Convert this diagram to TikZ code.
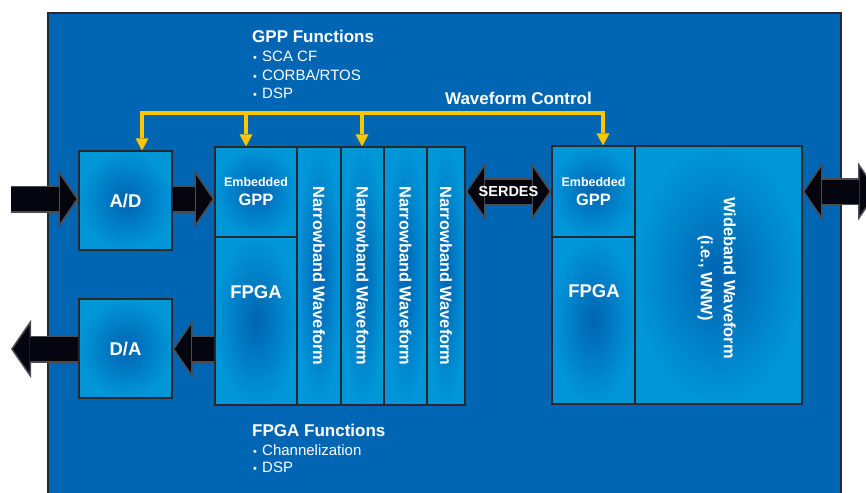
\documentclass[tikz,border=0pt]{standalone}
\usepackage{fontspec}
\setmainfont{Liberation Sans}
\usetikzlibrary{arrows.meta}

\definecolor{bgblue}{RGB}{0,102,179}
\definecolor{boxlight}{RGB}{0,150,216}
\definecolor{boxmid}{RGB}{0,100,178}
\definecolor{boxline}{RGB}{40,40,45}
\definecolor{ctrlyellow}{RGB}{255,198,0}
\definecolor{arrblack}{RGB}{5,5,15}
\definecolor{arrgray}{RGB}{75,75,80}

\begin{document}
\begin{tikzpicture}[x=1pt, y=-1pt,
	blk/.style={ draw=boxline, line width=1.3pt, inner color=boxmid, outer color=boxlight, inner sep=0pt, text=white, align=center },
	lbl/.style={ text=white, inner sep=0pt, align=center },
	big/.style={ font=\fontsize{18.5}{22}\selectfont\bfseries },
	mid/.style={ font=\fontsize{16.4}{23}\selectfont\bfseries },
	fnhead/.style={ text=white, anchor=base west, inner sep=0pt, font=\fontsize{17}{20}\selectfont\bfseries },
	fnitem/.style={ text=white, anchor=base west, inner sep=0pt, font=\fontsize{15}{18}\selectfont },
	ctrl/.style={ draw=ctrlyellow, line width=3.5pt, >={Triangle[length=12pt, width=13pt, line width=0pt]}, -> },
	fatarr/.style={ draw=arrgray, line width=27pt, >={Triangle[length=20pt, width=58pt, line width=1.5pt, fill=arrblack]}, ->,
		postaction={ draw=arrblack, line width=24pt, arrows=-, shorten >=19pt } },
	fatdbl/.style={ draw=arrgray, line width=27pt, >={Triangle[length=20pt, width=58pt, line width=1.5pt, fill=arrblack]}, <->,
		postaction={ draw=arrblack, line width=24pt, arrows=-, shorten >=19pt, shorten <=19pt } }
]
\newcommand{\bul}{\makebox[9pt][l]{\fontsize{11}{11}\selectfont •}}

\useasboundingbox (0,0) rectangle (866,492);
\draw[fill=bgblue, draw=boxline, line width=1.5pt] (48,13) rectangle (841,500);

% converters
\node[blk, big, minimum width=93, minimum height=99] (ad) at (125.5,200.5) {A/D};
\node[blk, big, minimum width=93, minimum height=99] (da) at (125.5,348.5) {D/A};

% left processing board
\node[blk, font=\fontsize{16.5}{19}\selectfont\bfseries, minimum width=82, minimum height=90] (gppL) at (256,192) {{\fontsize{12.5}{15}\selectfont Embedded}\\GPP};
\node[blk, minimum width=82, minimum height=168] (fpgaL) at (256,321) {};
\node[lbl, big] (fpgaLt) at (256,292) {FPGA};
\foreach \i/\x/\w in {1/319/44, 2/362.5/43, 3/405.5/43, 4/446/38} {
	\node[blk, minimum width=\w, minimum height=258] (nb\i) at (\x,276) {};
	\node[lbl, mid, rotate=-90] (nbt\i) at (nb\i) {Narrowband Waveform};
}

% right processing board
\node[blk, font=\fontsize{16.5}{19}\selectfont\bfseries, minimum width=83, minimum height=91] (gppR) at (593.5,191.5) {{\fontsize{12.5}{15}\selectfont Embedded}\\GPP};
\node[blk, minimum width=83, minimum height=167] (fpgaR) at (593.5,320.5) {};
\node[lbl, big] (fpgaRt) at (594,291) {FPGA};
\node[blk, minimum width=167, minimum height=258] (wnw) at (718.5,275) {};
\node[lbl, mid, rotate=-90] (wnwt) at (716.5,278) {Wideband Waveform\\(i.e., WNW)};

% waveform control bus
\coordinate (b1) at (142,113);
\coordinate (b2) at (246,113);
\coordinate (b3) at (362,113);
\coordinate (b4) at (603,113);
\draw[ctrl, <->] (b1 |- ad.north) -- (b1) -- (b4) -- (b4 |- gppR.north);
\draw[ctrl] (b2) -- (b2 |- gppL.north);
\draw[ctrl] (b3) -- (b3 |- nb2.north);
\node[fnhead, anchor=base east] (wfc) at (592,105) {Waveform Control};

% data paths
\coordinate (in) at (11,199);
\coordinate (out) at (11,349);
\coordinate (ext) at (878,191.5);
\draw[fatarr] (in) -- (in -| ad.west);
\draw[fatarr] (in -| ad.east) -- (in -| gppL.west);
\draw[fatarr] (out -| fpgaL.west) -- (out -| da.east);
\draw[fatarr] (out -| da.west) -- (out);
\draw[fatdbl] (gppR.west -| nb4.east) -- node[lbl, font=\fontsize{14.5}{16}\selectfont\bfseries] (serdes) {SERDES} (gppR.west);
\draw[fatdbl] (wnw.east |- gppR.west) -- (ext);

% function lists
\node[fnhead] (gppfn) at (252,43) {GPP Functions};
\foreach \t/\y [count=\i] in {SCA CF/62, {CORBA/RTOS}/80.5, DSP/98.5}
	\node[fnitem] (gppi\i) at (253,\y) {\bul\t};
\node[fnhead] (fpgafn) at (252,436) {FPGA Functions};
\foreach \t/\y [count=\i] in {Channelization/455, DSP/472}
	\node[fnitem] (fpgai\i) at (253,\y) {\bul\t};

\end{tikzpicture}
\end{document}
